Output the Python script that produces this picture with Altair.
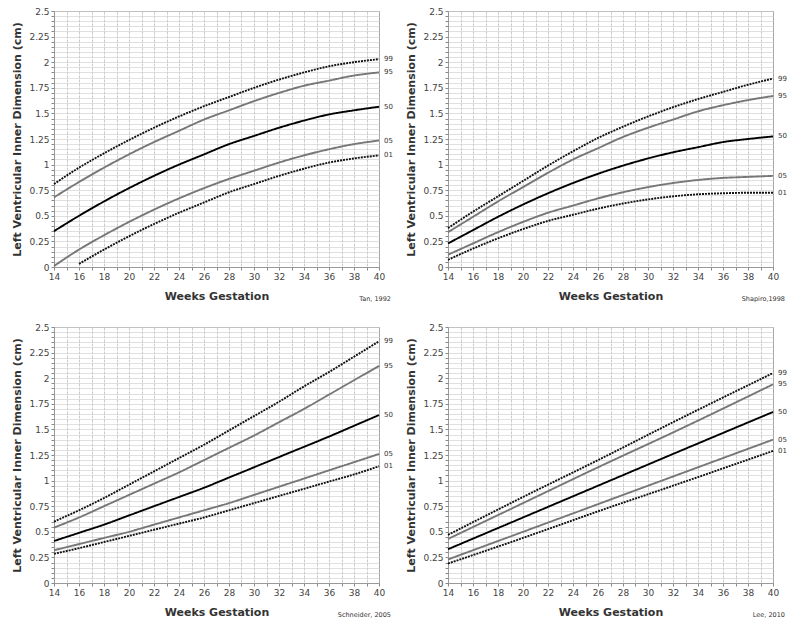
import altair as alt
import pandas as pd

PCTS = ["99", "95", "50", "05", "01"]
COLORS = ["#111111", "#777777", "#000000", "#777777", "#111111"]
DASHES = [[2, 1], [1, 0], [1, 0], [1, 0], [2, 1]]

WEEKS = [14, 16, 18, 20, 22, 24, 26, 28, 30, 32, 34, 36, 38, 40]

# Tan, 1992
TAN_99 = [0.81, 0.97, 1.11, 1.24, 1.36, 1.47, 1.57, 1.66, 1.75, 1.83, 1.90, 1.96, 2.00, 2.03]
TAN_95 = [0.68, 0.83, 0.97, 1.10, 1.22, 1.33, 1.44, 1.53, 1.62, 1.70, 1.77, 1.82, 1.87, 1.90]
TAN_50 = [0.35, 0.50, 0.64, 0.77, 0.89, 1.00, 1.10, 1.20, 1.28, 1.36, 1.43, 1.49, 1.53, 1.565]
TAN_05 = [0.01, 0.17, 0.31, 0.44, 0.56, 0.67, 0.77, 0.86, 0.94, 1.02, 1.09, 1.15, 1.20, 1.235]
TAN_01_WEEKS = [16, 18, 20, 22, 24, 26, 28, 30, 32, 34, 36, 38, 40]
TAN_01 = [0.03, 0.17, 0.30, 0.42, 0.53, 0.63, 0.73, 0.81, 0.89, 0.96, 1.02, 1.06, 1.09]

# Shapiro, 1998
SHA_99 = [0.38, 0.54, 0.69, 0.84, 0.99, 1.13, 1.26, 1.37, 1.47, 1.56, 1.64, 1.71, 1.78, 1.84]
SHA_95 = [0.34, 0.49, 0.64, 0.78, 0.92, 1.05, 1.16, 1.27, 1.36, 1.44, 1.52, 1.58, 1.63, 1.67]
SHA_50 = [0.23, 0.36, 0.49, 0.61, 0.72, 0.82, 0.91, 0.99, 1.06, 1.12, 1.17, 1.22, 1.25, 1.275]
SHA_05 = [0.12, 0.23, 0.34, 0.44, 0.53, 0.60, 0.67, 0.73, 0.78, 0.82, 0.85, 0.87, 0.88, 0.89]
SHA_01 = [0.07, 0.18, 0.28, 0.37, 0.45, 0.51, 0.57, 0.62, 0.66, 0.69, 0.71, 0.72, 0.725, 0.725]

# Schneider, 2005
SCH_99 = [0.60, 0.71, 0.83, 0.96, 1.09, 1.22, 1.35, 1.49, 1.63, 1.77, 1.92, 2.06, 2.21, 2.36]
SCH_95 = [0.54, 0.64, 0.75, 0.86, 0.97, 1.08, 1.20, 1.32, 1.44, 1.57, 1.70, 1.84, 1.98, 2.12]
SCH_50 = [0.41, 0.49, 0.57, 0.66, 0.75, 0.84, 0.93, 1.03, 1.13, 1.23, 1.33, 1.43, 1.535, 1.64]
SCH_05 = [0.32, 0.38, 0.44, 0.50, 0.57, 0.64, 0.71, 0.78, 0.86, 0.94, 1.02, 1.10, 1.18, 1.26]
SCH_01 = [0.285, 0.34, 0.40, 0.46, 0.52, 0.58, 0.64, 0.71, 0.78, 0.85, 0.92, 0.99, 1.06, 1.14]

# Lee, 2010
LEE_WEEKS = [14, 20, 26, 32, 40]
LEE_99 = [0.47, 0.84, 1.20, 1.57, 2.05]
LEE_95 = [0.43, 0.78, 1.13, 1.47, 1.94]
LEE_50 = [0.33, 0.64, 0.95, 1.26, 1.67]
LEE_05 = [0.23, 0.50, 0.77, 1.04, 1.40]
LEE_01 = [0.19, 0.44, 0.70, 0.95, 1.29]

W, H = 325, 256
TICK_FONT = "DejaVu Sans"
TITLE_FONT = "DejaVu Sans"


def panel(series, source):
    rows = []
    ends = []
    for pct, (weeks, vals) in series.items():
        for w, v in zip(weeks, vals):
            rows.append({"week": w, "value": v, "pct": pct})
        ends.append({"week": weeks[-1], "value": vals[-1], "pct": pct})
    df = pd.DataFrame(rows)
    edf = pd.DataFrame(ends)

    x = alt.X(
        "week:Q",
        scale=alt.Scale(domain=[14, 40], nice=False, zero=False),
        axis=alt.Axis(
            values=list(range(14, 41)),
            tickCount=100,
            labelExpr="datum.value % 2 == 0 ? toString(datum.value) : ''",
            title="Weeks Gestation",
            gridColor="#b4b4b4",
            gridDash=[3, 1],
            gridWidth=0.7,
        ),
    )
    yvals = [round(i * 0.05, 2) for i in range(51)]
    y = alt.Y(
        "value:Q",
        scale=alt.Scale(domain=[0, 2.5], nice=False),
        axis=alt.Axis(
            values=yvals,
            tickCount=100,
            labelExpr="abs(datum.value*4 - round(datum.value*4)) < 0.001 ? toString(round(datum.value*100)/100) : ''",
            title="Left Ventricular Inner Dimension (cm)",
            gridColor="#d2d2d2",
            gridWidth=0.7,
        ),
    )
    lines = alt.Chart(df).mark_line(strokeWidth=1.9, interpolate="monotone").encode(
        x=x,
        y=y,
        color=alt.Color("pct:N", scale=alt.Scale(domain=PCTS, range=COLORS), legend=None),
        strokeDash=alt.StrokeDash("pct:N", scale=alt.Scale(domain=PCTS, range=DASHES), legend=None),
        detail="pct:N",
    )
    labels = alt.Chart(edf).mark_text(
        align="left", baseline="middle", dx=5, fontSize=7, font=TICK_FONT, color="#333"
    ).encode(x="week:Q", y="value:Q", text="pct:N")
    src = alt.Chart(pd.DataFrame({"t": [source]})).mark_text(
        align="right", baseline="middle", fontSize=6.5, font=TICK_FONT, color="#333"
    ).encode(x=alt.value(W + 12), y=alt.value(H + 32), text="t:N")
    return alt.layer(lines, labels, src).properties(width=W, height=H)


p1 = panel({"99": (WEEKS, TAN_99), "95": (WEEKS, TAN_95), "50": (WEEKS, TAN_50),
            "05": (WEEKS, TAN_05), "01": (TAN_01_WEEKS, TAN_01)}, "Tan, 1992")
p2 = panel({"99": (WEEKS, SHA_99), "95": (WEEKS, SHA_95), "50": (WEEKS, SHA_50),
            "05": (WEEKS, SHA_05), "01": (WEEKS, SHA_01)}, "Shapiro,1998")
p3 = panel({"99": (WEEKS, SCH_99), "95": (WEEKS, SCH_95), "50": (WEEKS, SCH_50),
            "05": (WEEKS, SCH_05), "01": (WEEKS, SCH_01)}, "Schneider, 2005")
p4 = panel({"99": (LEE_WEEKS, LEE_99), "95": (LEE_WEEKS, LEE_95), "50": (LEE_WEEKS, LEE_50),
            "05": (LEE_WEEKS, LEE_05), "01": (LEE_WEEKS, LEE_01)}, "Lee, 2010")

chart = alt.vconcat(
    alt.hconcat(p1, p2, spacing=11),
    alt.hconcat(p3, p4, spacing=11),
    spacing=19,
).properties(
    padding={"left": 3, "top": -2, "right": 0, "bottom": 0}
).configure_view(
    stroke="#999999", strokeWidth=1
).configure_axis(
    labelFont=TICK_FONT,
    labelFontSize=9,
    labelColor="#444444",
    labelOverlap=False,
    labelFlush=False,
    labelBound=False,
    titleFont=TITLE_FONT,
    titleFontSize=11,
    titleFontWeight="bold",
    titleColor="#333333",
    tickSize=3,
    tickColor="#888888",
    domainColor="#999999",
    labelPadding=2,
).configure_axisX(
    titlePadding=9,
).configure_axisY(
    titlePadding=6,
)

chart.save("out.html", embed_options={"renderer": "svg", "actions": False})
